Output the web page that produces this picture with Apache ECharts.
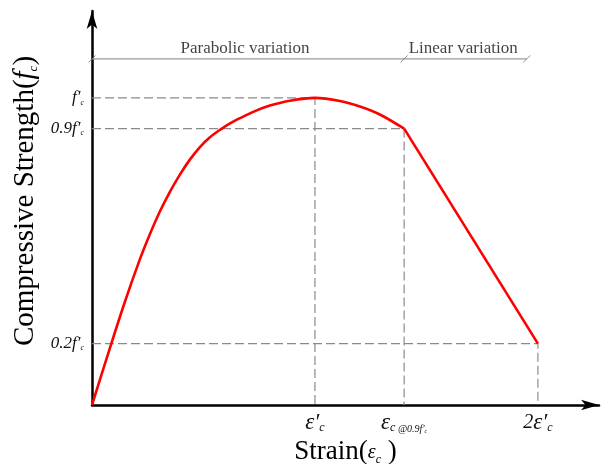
<!DOCTYPE html>
<html>
<head>
<meta charset="utf-8">
<script src="https://cdn.jsdelivr.net/npm/echarts@6/dist/echarts.min.js"></script>
<style>html,body{margin:0;padding:0;background:#fff}#c{width:611px;height:464px}</style>
</head>
<body>
<div id="c"></div>
<script>
// Strain in units of ε'c, stress in units of f'c
const parabolicStrain = [0, 0.081, 0.148, 0.215, 0.260, 0.305, 0.350, 0.395, 0.439, 0.484, 0.529, 0.574, 0.619, 0.664, 0.731, 0.798, 0.888, 1.0, 1.112, 1.202, 1.291, 1.4];
const parabolicStress = [0, 0.187, 0.337, 0.475, 0.557, 0.631, 0.695, 0.751, 0.799, 0.840, 0.872, 0.896, 0.917, 0.934, 0.957, 0.975, 0.991, 1.0, 0.990, 0.972, 0.946, 0.9];
const linearStrain = [1.4, 2.0];
const linearStress = [0.9, 0.2];

// reference (dashed) points
const refStrain = [1.0, 1.4, 2.0];
const refStress = [1.0, 0.9, 0.2];

// tick labels
const xTickValues = [1.0, 1.4, 2.0];
const xTickLabels = ['{eps|ε′}{sub|c}', '{eps|ε}{sub|c}{tiny| @0.9}{tinyi|f′}{tinysub|c}', '{num|2}{eps|ε′}{sub|c}'];
const yTickValues = [0.2, 0.9, 1.0];
const yTickLabels = ['{it|0.2f′}{sub|c}', '{it|0.9f′}{sub|c}', '{it|f′}{sub|c}'];

// region annotation
const regionNames = ['Parabolic variation', 'Linear variation'];
const regionBounds = [0, 1.4, 1.95];
const regionTextX = [0.686, 1.665];
const regionLevel = 1.127;
const regionTextLevel = 1.16;

const serif = '"Liberation Serif", "Times New Roman", serif';
const red = '#ff0000';
const grey = '#8a8a8a';

const series = [];
series.push({
  type: 'line', data: parabolicStrain.map((x, i) => [x, parabolicStress[i]]),
  smooth: 0.3, symbol: 'none', lineStyle: {color: red, width: 2.6}, z: 5
});
series.push({
  type: 'line', data: linearStrain.map((x, i) => [x, linearStress[i]]),
  symbol: 'none', lineStyle: {color: red, width: 2.6}, z: 5
});
refStrain.forEach((x, i) => {
  const y = refStress[i];
  series.push({
    type: 'line', data: [[0, y], [x, y], [x, 0]], symbol: 'none',
    lineStyle: {color: grey, width: 1.2, type: [9, 4]}, z: 2
  });
});
// region line with break marks
series.push({
  type: 'line', data: [[regionBounds[0], regionLevel], [regionBounds[2], regionLevel]], symbol: 'none',
  lineStyle: {color: '#9a9a9a', width: 1.2}, z: 2
});
series.push({
  type: 'scatter', data: regionBounds.map(x => [x, regionLevel]),
  symbol: 'path://M0,8L8,0', symbolSize: 7,
  itemStyle: {color: 'none', borderColor: '#777', borderWidth: 1}, z: 3
});
series.push({
  type: 'scatter', symbolSize: 0,
  data: regionNames.map((n, i) => ({value: [regionTextX[i], regionTextLevel], name: n})),
  label: {show: true, position: 'inside', formatter: p => p.name, color: '#111', fontFamily: serif, fontSize: 17}
});

const chart = echarts.init(document.getElementById('c'), null, {renderer: 'canvas'});
chart.setOption({
  animation: false,
  backgroundColor: '#fff',
  grid: {left: 92, right: 12, top: 11, bottom: 59, containLabel: false, outerBoundsMode: 'none'},
  xAxis: {
    type: 'value', min: 0, max: 2.274,
    axisLine: {show: true, onZero: false, symbol: ['none', 'arrow'], symbolSize: [8, 18], lineStyle: {color: '#000', width: 2.5}},
    axisTick: {show: false}, splitLine: {show: false},
    axisLabel: {
      customValues: xTickValues, margin: 6, color: '#111', fontFamily: serif,
      formatter: v => xTickLabels[xTickValues.findIndex(t => Math.abs(t - v) < 1e-6)] || '',
      rich: {
        eps: {fontFamily: serif, fontStyle: 'italic', fontSize: 23, color: '#111'},
        num: {fontFamily: serif, fontStyle: 'italic', fontSize: 20, color: '#111'},
        sub: {fontFamily: serif, fontStyle: 'italic', fontSize: 12, color: '#111', verticalAlign: 'bottom', padding: [8, 0, 0, 0]},
        tiny: {fontFamily: serif, fontStyle: 'italic', fontSize: 10, color: '#111', verticalAlign: 'bottom', padding: [8, 0, 0, 0]},
        tinyi: {fontFamily: serif, fontStyle: 'italic', fontSize: 10, color: '#111', verticalAlign: 'bottom', padding: [8, 0, 0, 0]},
        tinysub: {fontFamily: serif, fontStyle: 'italic', fontSize: 6, color: '#111', verticalAlign: 'bottom', padding: [10, 0, 0, 0]}
      }
    },
    name: 'Strain({e|ε}{s|c} )', nameLocation: 'middle', nameGap: 30,
    nameTextStyle: {
      fontFamily: serif, fontSize: 27, color: '#000', padding: [0, 0, 0, 0],
      rich: {
        e: {fontFamily: serif, fontStyle: 'italic', fontSize: 20, color: '#000'},
        s: {fontFamily: serif, fontStyle: 'italic', fontSize: 12, color: '#000', verticalAlign: 'bottom', padding: [8, 0, 0, 0]}
      }
    }
  },
  yAxis: {
    type: 'value', min: 0, max: 1.283,
    axisLine: {show: true, onZero: false, symbol: ['none', 'arrow'], symbolSize: [8, 18], lineStyle: {color: '#000', width: 2.5}},
    axisTick: {show: false}, splitLine: {show: false},
    axisLabel: {
      customValues: yTickValues, margin: 8, color: '#111',
      formatter: v => yTickLabels[yTickValues.findIndex(t => Math.abs(t - v) < 1e-6)] || '',
      rich: {
        it: {fontFamily: serif, fontStyle: 'italic', fontSize: 17, color: '#111'},
        sub: {fontFamily: serif, fontStyle: 'italic', fontSize: 8, color: '#111', verticalAlign: 'bottom', padding: [8, 0, 0, 0]}
      }
    },
    name: 'Compressive Strength({f|f}{s|c})', nameLocation: 'middle', nameGap: 48,
    nameTextStyle: {
      fontFamily: serif, fontSize: 29, color: '#000', padding: [0, 0, 0, 14],
      rich: {
        f: {fontFamily: serif, fontStyle: 'italic', fontSize: 29, color: '#000'},
        s: {fontFamily: serif, fontStyle: 'italic', fontSize: 13, color: '#000', verticalAlign: 'bottom', padding: [10, 0, 0, 0]}
      }
    }
  },
  series: series
});
</script>
</body>
</html>
